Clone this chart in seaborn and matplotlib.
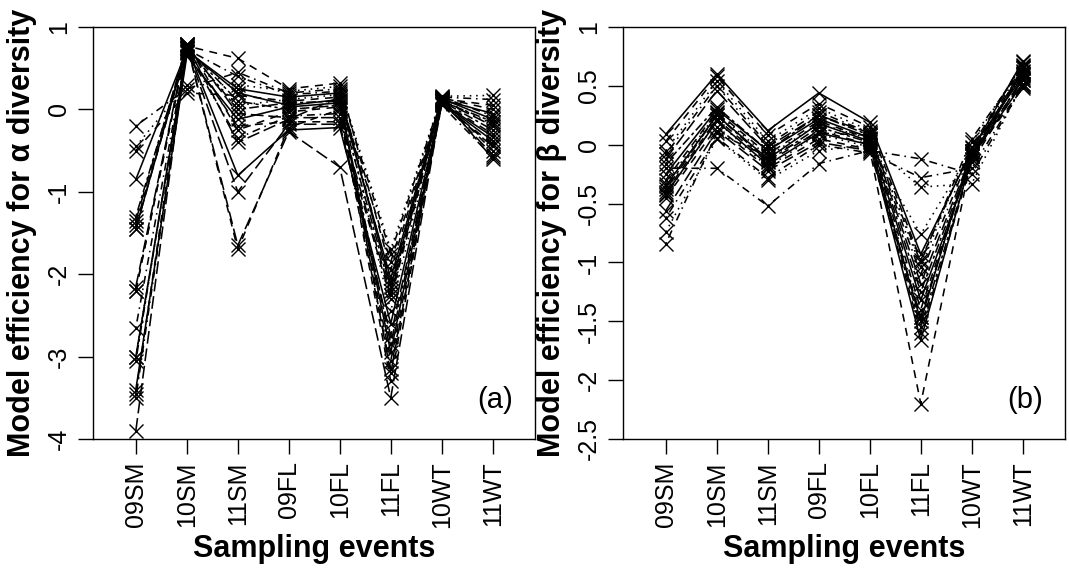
import matplotlib
matplotlib.use("Agg")
import matplotlib.pyplot as plt
import seaborn as sns
import numpy as np
import pandas as pd

# ── Sampling events ───────────────────────────────────────────────────
events = ["09SM", "10SM", "11SM", "09FL", "10FL", "11FL", "10WT", "11WT"]
models = [f"m{i:02d}" for i in range(20)]

# ── Panel (a): model efficiency for alpha diversity (one list per event,
#    index = model) ────────────────────────────────────────────────────
a_09SM = [-0.20, -0.45, -0.50, -0.85, -1.30, -1.35, -1.40, -1.45, -1.45, -2.15,
          -2.20, -2.20, -2.65, -3.00, -3.00, -3.05, -3.40, -3.45, -3.50, -3.90]
a_10SM = [0.25, 0.30, 0.20, 0.72, 0.75, 0.78, 0.70, 0.76, 0.74, 0.80,
          0.79, 0.77, 0.73, 0.71, 0.68, 0.75, 0.65, 0.80, 0.70, 0.78]
a_11SM = [0.45, 0.30, 0.17, 0.20, 0.10, -0.05, -0.20, -0.80, -1.00, -1.65,
          -1.70, 0.62, 0.40, 0.25, 0.05, 0.00, -0.12, -0.25, -0.35, -0.40]
a_09FL = [0.20, 0.22, 0.10, 0.05, 0.00, -0.10, -0.15, -0.25, -0.18, -0.27,
          -0.22, 0.25, 0.18, 0.15, 0.12, 0.08, 0.03, -0.03, -0.08, -0.12]
a_10FL = [0.25, 0.28, 0.15, 0.12, 0.05, -0.10, -0.15, -0.22, -0.18, -0.70,
          0.00, 0.32, 0.22, 0.20, 0.18, 0.10, 0.08, 0.03, -0.05, 0.15]
a_11FL = [-1.75, -1.70, -1.85, -2.05, -2.20, -2.25, -2.30, -2.60, -2.75, -3.50,
          -3.30, -1.95, -2.10, -2.15, -2.45, -2.85, -2.95, -3.05, -3.15, -3.20]
a_10WT = [0.15, 0.16, 0.13, 0.12, 0.10, 0.11, 0.09, 0.08, 0.07, 0.10,
          0.12, 0.14, 0.15, 0.13, 0.12, 0.10, 0.08, 0.06, 0.05, 0.14]
a_11WT = [0.12, 0.17, 0.05, -0.05, -0.15, -0.20, -0.30, -0.38, -0.45, -0.55,
          -0.50, 0.00, -0.08, -0.12, -0.18, -0.25, -0.33, -0.42, -0.58, -0.60]

# ── Panel (b): model efficiency for beta diversity ────────────────────
b_09SM = [0.09, 0.03, -0.05, -0.08, -0.12, -0.16, -0.20, -0.25, -0.30, -0.33,
          -0.35, -0.38, -0.40, -0.42, -0.43, -0.45, -0.56, -0.62, -0.74, -0.84]
b_10SM = [0.60, 0.58, 0.54, 0.50, 0.46, 0.32, -0.20, 0.30, 0.28, 0.27,
          0.25, 0.25, 0.22, 0.20, 0.20, 0.15, 0.12, 0.06, 0.05, 0.10]
b_11SM = [0.12, 0.08, 0.03, 0.00, -0.02, -0.05, -0.52, -0.05, -0.08, -0.10,
          -0.12, -0.14, -0.15, -0.17, -0.19, -0.20, -0.22, -0.28, -0.30, -0.10]
b_09FL = [0.44, 0.35, 0.31, 0.28, 0.25, 0.25, -0.16, 0.22, 0.20, 0.18,
          0.18, 0.15, 0.12, 0.10, 0.09, 0.05, 0.02, 0.00, -0.05, 0.10]
b_10FL = [0.19, 0.15, 0.12, 0.10, 0.10, 0.08, -0.05, 0.06, 0.05, 0.05,
          0.03, 0.02, 0.00, 0.00, -0.02, -0.04, -0.05, -0.07, 0.00, 0.08]
b_11FL = [-0.93, -0.98, -1.04, -1.10, -1.18, -1.25, -0.12, -1.32, -1.40, -1.46,
          -1.50, -1.55, -1.60, -1.66, -0.76, -2.20, -1.46, -0.28, -0.36, -1.00]
b_10WT = [-0.05, -0.02, 0.02, -0.05, -0.08, -0.10, -0.25, -0.12, -0.08, -0.06,
          -0.03, -0.12, -0.15, -0.10, -0.05, -0.10, -0.08, -0.20, -0.33, 0.05]
b_11WT = [0.71, 0.70, 0.68, 0.67, 0.65, 0.65, 0.50, 0.63, 0.62, 0.60,
          0.58, 0.57, 0.55, 0.52, 0.60, 0.48, 0.55, 0.50, 0.52, 0.66]

alpha_cols = [a_09SM, a_10SM, a_11SM, a_09FL, a_10FL, a_11FL, a_10WT, a_11WT]
beta_cols = [b_09SM, b_10SM, b_11SM, b_09FL, b_10FL, b_11FL, b_10WT, b_11WT]

# line type index per model (0 solid, 1 dashed, 2 dotted, 3 dotdash,
# 4 longdash, 5 twodash)
lty_a = [3, 2, 1, 0, 5, 4, 1, 0, 4, 4, 1, 1, 3, 0, 2, 5, 0, 1, 3, 4]
lty_b = [0, 1, 2, 3, 4, 5, 3, 0, 1, 2, 0, 5, 1, 0, 2, 1, 4, 3, 2, 3]


def to_long(cols):
    rows = []
    for j, col in enumerate(cols):
        for i, v in enumerate(col):
            rows.append({"model": models[i], "pos": j + 1, "value": v})
    return pd.DataFrame(rows)


df_a = to_long(alpha_cols)
df_b = to_long(beta_cols)

# R-like line types
lty = ["", (5, 4), (1, 3), (1, 3, 5, 3), (8, 3), (2, 2, 6, 2)]

# ── Style ─────────────────────────────────────────────────────────────
sns.set_style("ticks")
plt.rcParams.update({
    "font.family": ["Liberation Sans", "DejaVu Sans"],
    "axes.linewidth": 1.0,
    "text.color": "black",
    "axes.labelcolor": "black",
    "xtick.color": "black",
    "ytick.color": "black",
    "axes.edgecolor": "black",
})

fig = plt.figure(figsize=(10.69, 5.69), dpi=100)
ax_a = fig.add_axes([0.087, 0.2285, 0.4135, 0.724])
ax_b = fig.add_axes([0.5828, 0.2285, 0.4135, 0.724])

panels = [
    (ax_a, df_a, lty_a, (-4, 1), [-4, -3, -2, -1, 0, 1],
     ["-4", "-3", "-2", "-1", "0", "1"],
     "Model efficiency for α diversity", "(a)"),
    (ax_b, df_b, lty_b, (-2.5, 1), [-2.5, -2, -1.5, -1, -0.5, 0, 0.5, 1],
     ["-2.5", "-2", "-1.5", "-1", "-0.5", "0", "0.5", "1"],
     "Model efficiency for β diversity", "(b)"),
]

for ax, df, lty_idx, ylim, yt, ytl, ylab, tag in panels:
    sns.lineplot(
        data=df, x="pos", y="value", style="model", style_order=models,
        dashes=[lty[k] for k in lty_idx], markers=["x"] * len(models),
        estimator=None, errorbar=None, sort=False,
        color="black", linewidth=1.15, markersize=10,
        markeredgewidth=1.0, markeredgecolor="black",
        legend=False, ax=ax, clip_on=False,
    )
    ax.set_xlim(0.16, 8.83)
    ax.set_ylim(*ylim)
    ax.set_xticks(range(1, len(events) + 1))
    ax.set_xticklabels(events, rotation=90, fontsize=18)
    ax.set_yticks(yt)
    ax.set_yticklabels(ytl, rotation=90, va="center", fontsize=18)
    ax.tick_params(axis="both", direction="out", length=11, width=1.0,
                   color="black", pad=5)
    for s in ax.spines.values():
        s.set_visible(True)
        s.set_color("black")
    ax.set_xlabel("Sampling events", fontsize=22, fontweight="bold", labelpad=4)
    ax.set_ylabel(ylab, fontsize=22, fontweight="bold", labelpad=7)
    ax.text(0.91, 0.095, tag, transform=ax.transAxes, ha="center", va="center",
            fontsize=21)

plt.savefig("out.png", dpi=100)
plt.close()
